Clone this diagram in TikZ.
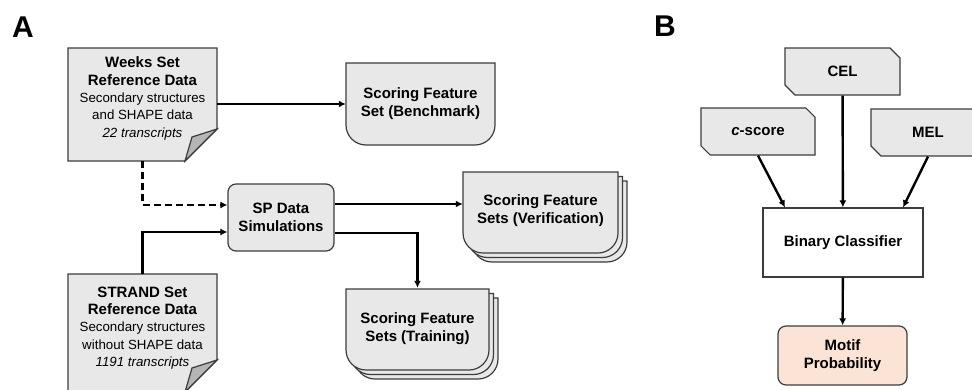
\documentclass[tikz,border=0pt]{standalone}
\usepackage{fontspec}
\setmainfont{Liberation Sans}
\usetikzlibrary{arrows.meta,shapes.misc}

\definecolor{boxgray}{HTML}{E8E8E8}
\definecolor{foldgray}{HTML}{B5B5B5}
\definecolor{edgegray}{HTML}{3C3C3C}
\definecolor{peach}{HTML}{FBE3D5}

\tikzset{
  box/.style={draw=edgegray, line width=1.2pt, fill=boxgray},
  fold/.style={draw=edgegray, line width=1.2pt, fill=foldgray},
  txt/.style={align=center, inner sep=0pt, font=\fontsize{15}{18}\selectfont\bfseries},
  doctxt/.style={align=center, inner sep=0pt, font=\fontsize{13.3}{17.3}\selectfont},
  cutbox/.style={box, chamfered rectangle, chamfered rectangle corners={north east,south west},
    chamfered rectangle xsep=5pt, chamfered rectangle ysep=5pt, inner sep=0pt},
  arr/.style={line width=2.4pt, -{Latex[length=7pt,width=7pt]}},
  panel/.style={inner sep=0pt, font=\fontsize{30}{32}\selectfont\bfseries}
}

\begin{document}
\begin{tikzpicture}[x=1pt,y=-1pt]
\useasboundingbox (0,0) rectangle (972,389);

% Panel A
\node[panel] (panelA) at (23,27) {A};

% reference data sheets
\draw[box] (68,48) -- (217,48) -- (217,129) -- (185,161) -- (68,161) -- cycle;
\draw[fold] (217,129) -- (185,161) -- (192,137) -- cycle;
\node[doctxt, minimum width=149pt, minimum height=101pt] (weeks) at (142.5,98.5)
  {{\fontsize{15}{17.3}\selectfont\bfseries Weeks Set}\\
   {\fontsize{15}{17.3}\selectfont\bfseries Reference Data}\\
   Secondary structures\\ and SHAPE data\\ \textit{22 transcripts}};

\draw[box] (68,274) -- (217,274) -- (217,360) -- (185,392) -- (68,392) -- cycle;
\draw[fold] (217,360) -- (185,392) -- (192,368) -- cycle;
\node[doctxt, minimum width=149pt, minimum height=108pt] (strand) at (142.5,328)
  {{\fontsize{15}{17.3}\selectfont\bfseries STRAND Set}\\
   {\fontsize{15}{17.3}\selectfont\bfseries Reference Data}\\
   Secondary structures\\ without SHAPE data\\ \textit{1191 transcripts}};

% feature sets
\draw[box] (346,63) -- (495,63) -- (495,125) arc (0:90:20) -- (366,145) arc (90:180:20) -- cycle;
\node[txt, minimum width=149pt, minimum height=82pt] (bench) at (420.5,104)
  {Scoring Feature\\ Set (Benchmark)};

\foreach \d in {9,4.5,0}
  \draw[box, shift={(\d,\d)}] (463,172) -- (618,172) -- (618,233) arc (0:90:20) -- (483,253) arc (90:180:20) -- cycle;
\node[txt, minimum width=155pt, minimum height=81pt] (verif) at (540.5,211)
  {Scoring Feature\\ Sets (Verification)};

\foreach \d in {9,4.5,0}
  \draw[box, shift={(\d,\d)}] (346,289) -- (489,289) -- (489,350) arc (0:90:20) -- (366,370) arc (90:180:20) -- cycle;
\node[txt, minimum width=143pt, minimum height=81pt] (train) at (417.5,328.5)
  {Scoring Feature\\ Sets (Training)};

\node[txt, box, rounded corners=8pt, minimum width=106pt, minimum height=67pt] (sp) at (281,217.5)
  {SP Data\\ Simulations};

\draw[arr] (weeks.east |- bench.west) -- (bench.west);
\draw[arr, dash pattern=on 7pt off 4pt] ([yshift=-12pt]weeks.south) |- ([yshift=12.5pt]sp.west);
\draw[arr] (strand.north) |- ([yshift=-14.5pt]sp.west);
\draw[arr] ([yshift=13.5pt]sp.east) -- ([yshift=13.5pt]sp.east -| verif.west);
\draw[arr] ([yshift=-15.5pt]sp.east) -| (train.north);

% Panel B
\node[panel] (panelB) at (665,26) {B};

\node[txt, cutbox, minimum width=115pt, minimum height=47pt] (cel) at (842.5,71.5) {CEL};
\node[txt, cutbox, minimum width=114pt, minimum height=47pt] (cscore) at (758,131.5) {\textit{c}-score};
\node[txt, cutbox, minimum width=114pt, minimum height=47pt] (mel) at (928,132.5) {MEL};
\node[txt, draw=edgegray, line width=1.2pt, fill=white, minimum width=160pt, minimum height=69pt] (binary)
  at (843,242.5) {Binary Classifier};
\node[txt, draw=edgegray, line width=1.2pt, fill=peach, rounded corners=8pt,
  minimum width=129pt, minimum height=59pt] (motif) at (842.5,355.5) {Motif\\ Probability};

\draw[arr] (cscore.south) -- ([xshift=-58pt]binary.north);
\draw[arr] (cel) -- (binary);
\draw[arr] (mel.south) -- ([xshift=60pt]binary.north);
\draw[arr] (binary) -- (motif);
\end{tikzpicture}
\end{document}
